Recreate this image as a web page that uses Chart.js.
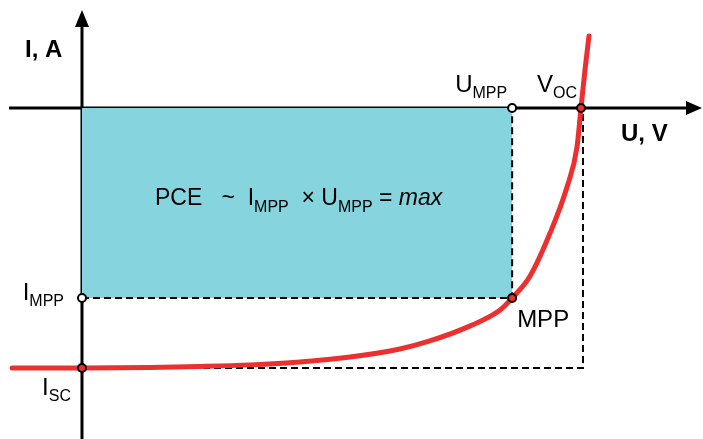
<!DOCTYPE html>
<html>
<head>
<meta charset="utf-8">
<script src="https://cdn.jsdelivr.net/npm/chart.js@4"></script>
<style>
  html, body { margin: 0; padding: 0; background: #fff; }
  #wrap { width: 703px; height: 439px; position: relative; }
</style>
</head>
<body>
<div id="wrap"><canvas id="ivChart"></canvas></div>
<script>
// I-V curve of a solar cell (arbitrary units, U normalised to Voc, I to Isc)
const curveU = [-0.140, 0.000, 0.136, 0.236, 0.337, 0.437, 0.537, 0.637, 0.697, 0.778, 0.838, 0.862, 0.898, 0.938, 0.972, 0.992, 1.000, 1.008, 1.016];
const curveI = [-1.000, -1.000, -0.998, -0.994, -0.988, -0.977, -0.958, -0.927, -0.896, -0.838, -0.777, -0.731, -0.646, -0.481, -0.304, -0.150, 0.000, 0.146, 0.277];

const U_MPP = 0.862;
const I_MPP = -0.731;
const V_OC = 1.0;
const I_SC = -1.0;

const xRange = [-0.1643, 1.2445];
const yRange = [-1.2731, 0.4154];

const FONT = '"Liberation Sans", Arial, sans-serif';

// helper: text with subscript, anchored left or right
function richText(ctx, x, y, main, sub, align, size, subSize) {
    ctx.font = `${size}px ${FONT}`;
    const w1 = ctx.measureText(main).width;
    ctx.font = `${subSize}px ${FONT}`;
    const w2 = ctx.measureText(sub).width;
    let x0 = align === 'right' ? x - w1 - w2 : x;
    ctx.textAlign = 'left';
    ctx.textBaseline = 'alphabetic';
    ctx.font = `${size}px ${FONT}`;
    ctx.fillText(main, x0, y);
    ctx.font = `${subSize}px ${FONT}`;
    ctx.fillText(sub, x0 + w1, y + 6);
}

const axesPlugin = {
    id: 'axesArrows',
    beforeDatasetsDraw(chart) {
        const ctx = chart.ctx;
        const xs = chart.scales.x, ys = chart.scales.y;
        const x0 = xs.getPixelForValue(0), y0 = ys.getPixelForValue(0);
        const w = chart.width, h = chart.height;
        ctx.save();
        ctx.strokeStyle = '#000';
        ctx.fillStyle = '#000';
        ctx.lineWidth = 3;
        // x axis
        ctx.beginPath();
        ctx.moveTo(9, y0);
        ctx.lineTo(w - 12, y0);
        ctx.stroke();
        ctx.beginPath();
        ctx.moveTo(w - 1, y0);
        ctx.lineTo(w - 17, y0 - 7);
        ctx.lineTo(w - 17, y0 + 7);
        ctx.closePath();
        ctx.fill();
        // y axis
        ctx.beginPath();
        ctx.moveTo(x0, h);
        ctx.lineTo(x0, 22);
        ctx.stroke();
        ctx.beginPath();
        ctx.moveTo(x0, 10);
        ctx.lineTo(x0 - 7, 27);
        ctx.lineTo(x0 + 7, 27);
        ctx.closePath();
        ctx.fill();
        ctx.restore();
    },
    afterDatasetsDraw(chart) {
        const ctx = chart.ctx;
        const xs = chart.scales.x, ys = chart.scales.y;
        const x0 = xs.getPixelForValue(0), y0 = ys.getPixelForValue(0);
        const xm = xs.getPixelForValue(U_MPP), ym = ys.getPixelForValue(I_MPP);
        const xv = xs.getPixelForValue(V_OC), ysc = ys.getPixelForValue(I_SC);
        ctx.save();
        ctx.fillStyle = '#000';
        // axis titles
        ctx.font = `bold 24px ${FONT}`;
        ctx.textAlign = 'left';
        ctx.textBaseline = 'alphabetic';
        ctx.fillText('I, A', x0 - 57, y0 - 51);
        ctx.fillText('U, V', 621, y0 + 33);
        // point labels
        richText(ctx, xm - 5, y0 - 16, 'U', 'MPP', 'right', 24, 16);
        richText(ctx, xv - 4, y0 - 16, 'V', 'OC', 'right', 24, 16);
        richText(ctx, x0 - 18, ym + 2, 'I', 'MPP', 'right', 24, 16);
        richText(ctx, x0 - 11, ysc + 27, 'I', 'SC', 'right', 24, 16);
        ctx.font = `24px ${FONT}`;
        ctx.fillText('MPP', xm + 5, ym + 29);
        // formula in the power rectangle
        let x = 155, y = 205;
        const parts = [
            ['PCE   ~  I', 23, false, 0],
            ['MPP', 16, false, 7],
            ['  × U', 23, false, 0],
            ['MPP', 16, false, 7],
            [' = ', 23, false, 0],
            ['max', 23, true, 0]
        ];
        parts.forEach(p => {
            ctx.font = `${p[2] ? 'italic ' : ''}${p[1]}px ${FONT}`;
            ctx.fillText(p[0], x, y + p[3]);
            x += ctx.measureText(p[0]).width;
        });
        ctx.restore();
    }
};

const pts = (us, is) => us.map((u, i) => ({ x: u, y: is[i] }));

new Chart(document.getElementById('ivChart'), {
    type: 'line',
    data: {
        datasets: [
            {   // power rectangle
                data: pts([0, U_MPP], [I_MPP, I_MPP]),
                fill: 'origin',
                backgroundColor: '#86d4de',
                borderWidth: 0,
                pointRadius: 0,
                order: 5
            },
            {   // MPP guide lines
                data: pts([0, U_MPP, U_MPP], [I_MPP, I_MPP, 0]),
                borderColor: '#000',
                borderWidth: 2,
                borderDash: [7, 4],
                pointRadius: 0,
                fill: false,
                order: 4
            },
            {   // Isc / Voc guide lines
                data: pts([0, V_OC + 0.004, V_OC + 0.004], [I_SC, I_SC, 0]),
                borderColor: '#000',
                borderWidth: 2,
                borderDash: [7, 4],
                pointRadius: 0,
                fill: false,
                order: 4
            },
            {   // I-V curve
                data: pts(curveU, curveI),
                borderColor: '#ee2f2f',
                borderWidth: 5,
                borderCapStyle: 'round',
                cubicInterpolationMode: 'monotone',
                pointRadius: 0,
                fill: false,
                order: 2
            },
            {   // characteristic points
                data: pts([U_MPP, V_OC, U_MPP, 0, 0], [0, 0, I_MPP, I_MPP, I_SC]),
                showLine: false,
                pointRadius: 4,
                pointBorderWidth: 2,
                pointBorderColor: '#000',
                pointBackgroundColor: ['#ffffff', '#ee2f2f', '#ee2f2f', '#ffffff', '#ee2f2f'],
                order: 1
            }
        ]
    },
    options: {
        responsive: true,
        maintainAspectRatio: false,
        animation: false,
        layout: { padding: 0, autoPadding: false },
        plugins: { legend: { display: false }, tooltip: { enabled: false } },
        scales: {
            x: { type: 'linear', min: xRange[0], max: xRange[1], display: false },
            y: { type: 'linear', min: yRange[0], max: yRange[1], display: false }
        }
    },
    plugins: [axesPlugin]
});
</script>
</body>
</html>
